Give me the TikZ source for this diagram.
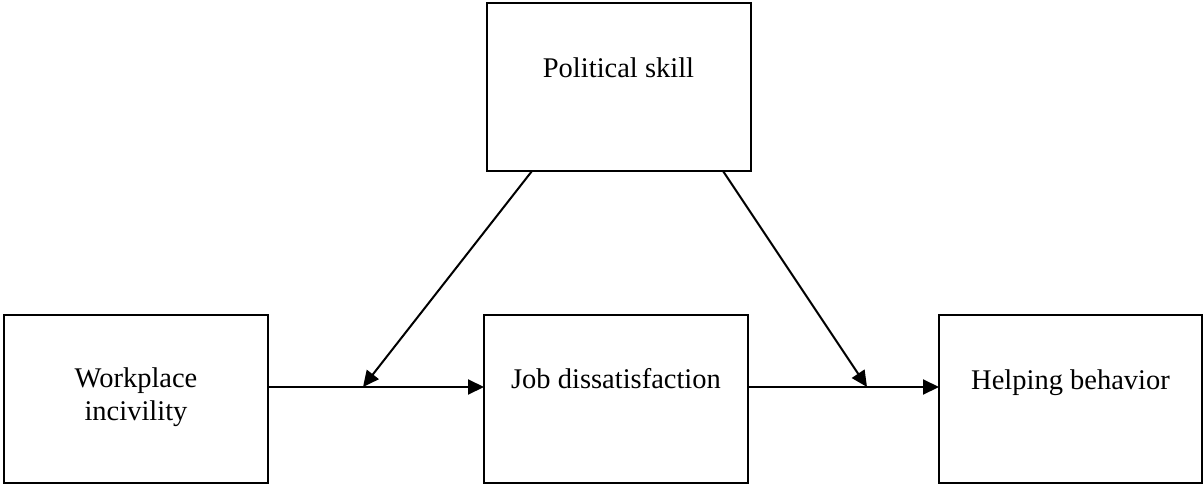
\documentclass[tikz,border=0pt]{standalone}
\usepackage{fontspec}
\setmainfont{Liberation Serif}
\usetikzlibrary{arrows.meta}
\begin{document}
\begin{tikzpicture}[x=1pt,y=-1pt,
  box/.style={draw=black,line width=2pt,minimum width=264pt,minimum height=168pt,inner sep=0pt,outer sep=0pt},
  lbl/.style={font=\fontsize{28.5}{33}\selectfont,inner sep=0pt,align=center},
  arr/.style={line width=2pt,-{Triangle[length=16pt,width=15pt]}}]
\useasboundingbox (0,0) rectangle (1204,484);
\node[box] (ps) at (618.5,87) {};
\node[box] (wi) at (136,399) {};
\node[box] (jd) at (616,399) {};
\node[box,minimum width=263pt] (hb) at (1070.5,399) {};
\node[lbl,anchor=base] (pst) at (618.5,78) {Political skill};
\node[lbl,anchor=base] (wit) at (136,420) {Workplace\\incivility};
\node[lbl,anchor=base] (jdt) at (616,388) {Job dissatisfaction};
\node[lbl,anchor=base] (hbt) at (1070.5,389) {Helping behavior};
\coordinate (m1) at (363,387);
\coordinate (m2) at (867,387);
\coordinate (s1) at (532,171);
\coordinate (s2) at (723,171);
\draw[arr] (wi.east |- m1) -- (jd.west |- m1);
\draw[arr] (jd.east |- m2) -- (hb.west |- m2);
\draw[arr] (s1) -- (m1);
\draw[arr] (s2) -- (m2);
\end{tikzpicture}
\end{document}
